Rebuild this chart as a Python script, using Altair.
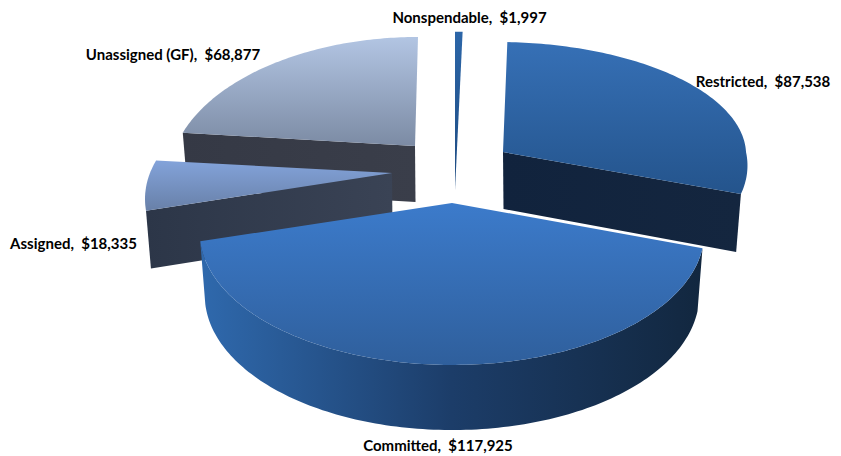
import math
import altair as alt
import pandas as pd

# ---- chart values ----
labels = ["Nonspendable", "Restricted", "Committed", "Assigned", "Unassigned (GF)"]
values = [1997, 87538, 117925, 18335, 68877]

# ---- appearance: per slice apex (px), half width, half depth, perspective, thickness, back skew ----
apex = {"Nonspendable": (455, 190), "Restricted": (503, 152), "Committed": (452, 203),
        "Assigned": (392, 173), "Unassigned (GF)": (415, 146)}
geom = {"Nonspendable": (215, 190, 0.2, 0, 0), "Restricted": (243, 122, 0.11, 57, 6),
        "Committed": (246, 126, 0.222, 62, 0), "Assigned": (242, 125, 0.2, 57, 0),
        "Unassigned (GF)": (239, 133, 0.22, 56, -3)}
flat_back = {"Restricted": 110}
label_pos = {"Nonspendable": (469.5, 17.5), "Restricted": (763, 82), "Committed": (438, 446),
             "Assigned": (73.5, 244), "Unassigned (GF)": (173, 55)}


def grad(c1, c2, horizontal=False, mid=None):
    stops = [alt.GradientStop(color=c1, offset=0)]
    if mid:
        stops.append(alt.GradientStop(color=mid, offset=0.5))
    stops.append(alt.GradientStop(color=c2, offset=1))
    return alt.LinearGradient(gradient="linear", stops=stops,
                              x1=0, y1=0, x2=1 if horizontal else 0, y2=0 if horizontal else 1)


top_fill = {"Nonspendable": grad("#2c66a8", "#1d4a80"),
            "Restricted": grad("#3670b6", "#24548c"),
            "Committed": grad("#3c7bcb", "#2f5f9c"),
            "Assigned": grad("#83a3da", "#6880a8"),
            "Unassigned (GF)": grad("#b2c5e3", "#7c8ba4")}
side_fill = {"Restricted": grad("#11233d", "#14263f", True),
             "Committed": grad("#2f69ad", "#12273f", True, "#1c3d69"),
             "Assigned": grad("#2c3648", "#3a4355", True),
             "Unassigned (GF)": grad("#353945", "#3a3e4a", True)}

total = sum(values)
angles = {}
acc = 0.0
for name, v in zip(labels, values):
    angles[name] = (acc, acc + v / total * 360)
    acc += v / total * 360


def project(name, deg, lower=False):
    cx, cy = apex[name]
    a, b, k, h, sk = geom[name]
    th = math.radians(deg)
    t = -math.cos(th)
    if t < 0 and name in flat_back:
        x, y = a * math.sin(th) + sk * t, flat_back[name] * t
    else:
        s = 1 / (1 - k * t)
        x, y = a * math.sin(th) * s + sk * min(t, 0), b * t * s
    if lower:
        return cx + x * 0.98, cy + y + h * (1 + 0.05 * t)
    return cx + x, cy + y


def sweep(a0, a1):
    n = max(2, int(abs(a1 - a0)) + 1)
    return [a0 + (a1 - a0) * i / (n - 1) for i in range(n)]


def top_poly(name):
    a0, a1 = angles[name]
    return [apex[name]] + [project(name, d) for d in sweep(a0, a1)]


def cut_poly(name, deg):
    cx, cy = apex[name]
    h = geom[name][3]
    return [(cx, cy), project(name, deg), project(name, deg, True), (cx + 0.5, cy + h)]


def outer_poly(name):
    a0, a1 = angles[name]
    return [project(name, d) for d in sweep(a0, a1)] + \
           [project(name, d, True) for d in sweep(a1, a0)]


x_scale = alt.Scale(domain=[8, 833], range=[0, 825], nice=False, zero=False)
y_scale = alt.Scale(domain=[8, 448], range=[0, 440], nice=False, zero=False)


def face(poly, fill):
    df = pd.DataFrame([{"x": p[0], "y": p[1], "o": i} for i, p in enumerate(poly)])
    return alt.Chart(df).mark_line(fill=fill, stroke=None, strokeWidth=0, interpolate="linear").encode(
        x=alt.X("x:Q", scale=x_scale, axis=None),
        y=alt.Y("y:Q", scale=y_scale, axis=None),
        order=alt.Order("o:Q"),
    )


layers = [
    face(cut_poly("Unassigned (GF)", angles["Unassigned (GF)"][0]), side_fill["Unassigned (GF)"]),
    face(top_poly("Unassigned (GF)"), top_fill["Unassigned (GF)"]),
    face(cut_poly("Assigned", angles["Assigned"][0]), side_fill["Assigned"]),
    face(top_poly("Assigned"), top_fill["Assigned"]),
    face(top_poly("Nonspendable"), top_fill["Nonspendable"]),
    face(cut_poly("Restricted", angles["Restricted"][1]), side_fill["Restricted"]),
    face(top_poly("Restricted"), top_fill["Restricted"]),
    face(outer_poly("Committed"), side_fill["Committed"]),
    face(top_poly("Committed"), top_fill["Committed"]),
]

label_df = pd.DataFrame([
    {"x": label_pos[n][0], "y": label_pos[n][1], "t": f"{n},\u00a0 ${v:,}"}
    for n, v in zip(labels, values)
])
text = alt.Chart(label_df).mark_text(
    font="Lato", fontSize=15, fontWeight="bold", color="#000000", align="center", baseline="middle"
).encode(
    x=alt.X("x:Q", scale=x_scale, axis=None),
    y=alt.Y("y:Q", scale=y_scale, axis=None),
    text="t:N",
)

chart = alt.layer(*layers, text).properties(
    width=825, height=440,
    padding={"left": 0, "top": 0, "right": 0, "bottom": 8},
    autosize=alt.AutoSizeParams(type="none"),
    background="#ffffff",
).configure_view(stroke=None)

chart.save("out.html", embed_options={"renderer": "svg", "actions": False})
